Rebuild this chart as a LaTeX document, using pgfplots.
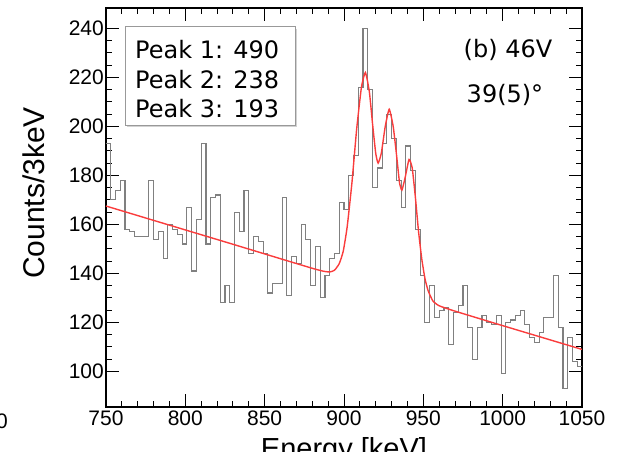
\documentclass[border=0pt]{standalone}
\usepackage{fontspec}
\setmainfont{Liberation Sans}
\newfontfamily\boxfont{DejaVu Sans}
\usepackage{pgfplots}
\usepackage{pgfplotstable}
\pgfplotsset{compat=1.18}

\definecolor{histgray}{RGB}{128,128,128}
\definecolor{fitred}{RGB}{250,60,60}

% histogram, 3 keV bins (left edge, counts)
\pgfplotstableread{
E c
750 193
753 170
756 174
759 178
762 158
765 157
768 155
771 155
774 155
777 178
780 154
783 157
786 146
789 160
792 158
795 156
798 152
801 167
804 141
807 162
810 193
813 152
816 171
819 172
822 128
825 135
828 128
831 165
834 157
837 174
840 148
843 155
846 153
849 148
852 132
855 136
858 136
861 171
864 131
867 147
870 144
873 160
876 154
879 135
882 151
885 130
888 139
891 146
894 148
897 169
900 166
903 180
906 188
909 216
912 240
915 215
918 175
921 183
924 193
927 205
930 195
933 178
936 167
939 192
942 182
945 158
948 139
951 120
954 135
957 122
960 125
963 126
966 111
969 124
972 127
975 135
978 118
981 105
984 118
987 123
990 120
993 119
996 123
999 99
1002 120
1005 121
1008 123
1011 125
1014 119
1017 114
1020 112
1023 116
1026 122
1029 122
1032 139
1035 118
1038 93
1041 114
1044 104
1047 102
1050 102
}\hist

% fitted curve
\pgfplotstableread{
E f
750 167.5
790 159.7
830 151.9
860 146.0
880 142.1
887 140.9
891 140.6
894 141.3
897 144.0
899.5 149
902 159
905 177
908 199
911 216
913.5 222
916 214
918 201
920 189
921.5 185
923.5 189
926 200
928.5 207
931 200
933 189
935 177
936.5 174
938.5 179
941 186.5
943 183
945 171
947 157
949 146
951 138
953 133
956 128.8
960 126.8
970 124.6
1000 118.7
1050 109
}\fit

\begin{document}
\begin{tikzpicture}
\begin{axis}[
    scale only axis,
    width=476pt, height=399pt,
    xmin=750, xmax=1050,
    ymin=85.5, ymax=248.3,
    xtick={750,800,...,1050},
    ytick={100,120,...,240},
    minor x tick num=4,
    minor y tick num=3,
    tick align=inside,
    major tick length=13pt,
    minor tick length=6pt,
    tick style={black, line width=1pt},
    axis line style={black, line width=1.3pt},
    /pgf/number format/assume math mode=true,
    /pgf/number format/1000 sep={},
    tick label style={font=\fontsize{21}{25}\selectfont},
    yticklabel style={inner sep=2pt},
]
\addplot[const plot, histgray, line width=1.1pt] table[x=E, y=c] {\hist};
\addplot[fitred, line width=1.4pt, smooth, tension=0.3] table[x=E, y=f] {\fit};
\end{axis}

% peak box
\fill[gray!35] (21pt,280pt) rectangle (191pt,378pt);
\draw[gray!80, line width=1pt, fill=white] (19pt,282pt) rectangle (189pt,380pt);
\begin{scope}[every node/.style={anchor=base west, inner sep=0pt, font=\boxfont\fontsize{24}{28}\selectfont}]
\node at (29pt,348.5pt) {Peak 1: 490};
\node at (29pt,318.5pt) {Peak 2: 238};
\node at (29pt,289.5pt) {Peak 3: 193};
\end{scope}

\node[anchor=base, inner sep=0pt, font=\boxfont\fontsize{24}{28}\selectfont] at (402pt,349pt) {(b) 46V};
\node[anchor=base, inner sep=0pt, font=\boxfont\fontsize{24}{28}\selectfont] at (399pt,305pt) {39(5)°};

% axis titles
\node[rotate=90, anchor=base, inner sep=0pt, font=\fontsize{30}{34}\selectfont] at (-61pt,214pt) {Counts/3keV};
\node[anchor=base, inner sep=0pt, font=\fontsize{29}{33}\selectfont] at (238pt,-51pt) {Energy [keV]};
\node[anchor=base east, inner sep=0pt, font=\fontsize{21}{25}\selectfont] at (-98pt,-21pt) {0};

\pgfresetboundingbox
\useasboundingbox (-106pt,-44pt) rectangle (515pt,407pt);
\end{tikzpicture}
\end{document}
